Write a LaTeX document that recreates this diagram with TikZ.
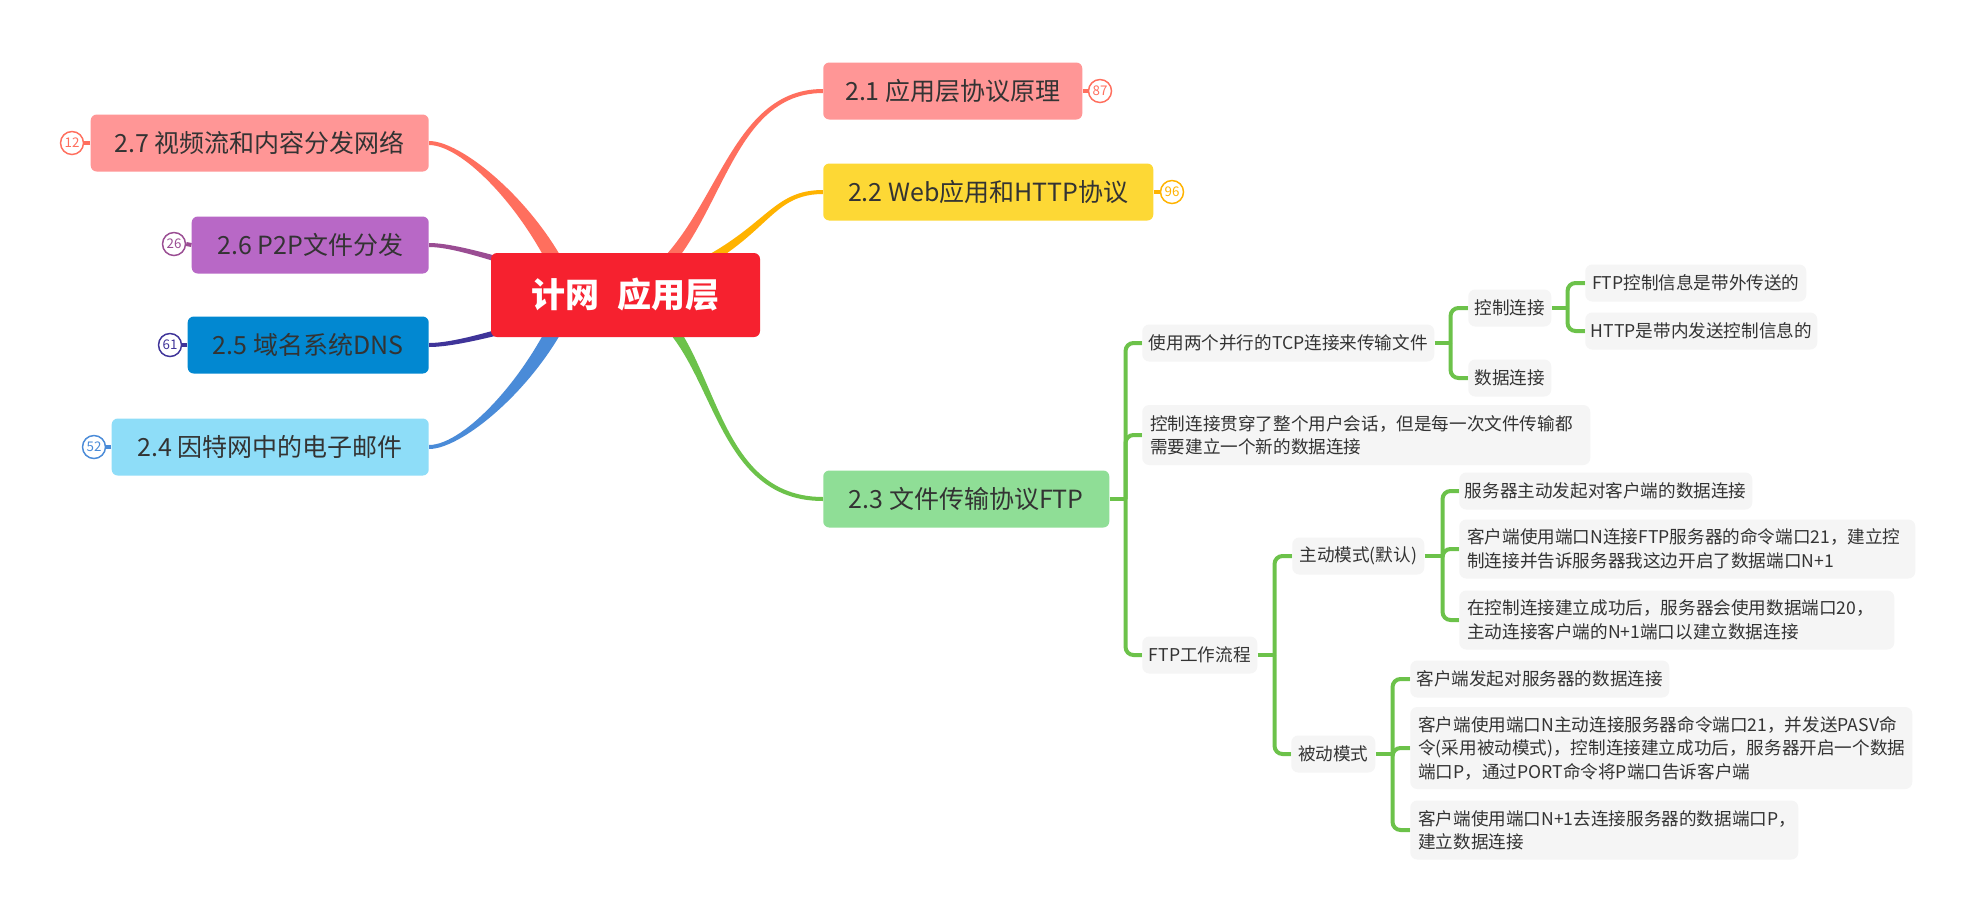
\documentclass[tikz,border=0pt]{standalone}
\usepackage{fontspec}
\setmainfont{Noto Sans CJK SC}
\usepackage{xcolor}
\usetikzlibrary{positioning,calc,backgrounds}
\definecolor{coral}{HTML}{FF6F5E}
\definecolor{amber}{HTML}{FFB300}
\definecolor{fgreen}{HTML}{6CC24A}
\definecolor{lblue}{HTML}{4A8BD8}
\definecolor{indigo}{HTML}{3F3499}
\definecolor{purple}{HTML}{9A4D93}
\definecolor{pink}{HTML}{FF9696}
\definecolor{yellow}{HTML}{FDD835}
\definecolor{lgreen}{HTML}{8FDE96}
\definecolor{cyan}{HTML}{8EDDF8}
\definecolor{blue}{HTML}{0288D1}
\definecolor{violet}{HTML}{B868C6}
\definecolor{rootred}{HTML}{F6212F}
\definecolor{leafgray}{HTML}{F5F5F5}
\definecolor{txt}{HTML}{333333}
\newdimen\pxu \pxu=0.75pt
\newcommand{\limb}[7]{%
  \fill[#1] ($#2+#6$) .. controls ($#3+#6$) and ($#4+#7$) .. ($#5+#7$)
    -- ($#5-#7$) .. controls ($#4-#7$) and ($#3-#6$) .. ($#2-#6$) -- cycle;}
\tikzset{
  root/.style={fill=rootred,rounded corners=6\pxu,text=white,inner sep=0pt,
    font=\fontsize{25.5}{30}\selectfont\bfseries,minimum height=84\pxu},
  topic/.style={rounded corners=6\pxu,text=txt,inner sep=0pt,anchor=west,
    font=\fontsize{18.75}{22}\selectfont,minimum height=57\pxu},
  leaf/.style={fill=leafgray,rounded corners=7\pxu,text=txt,inner sep=0pt,anchor=west,
    align=left,font=\fontsize{13.2}{17.6}\selectfont,minimum height=37\pxu},
  badge/.style={draw,circle,fill=white,line width=1.1pt,minimum size=23\pxu,inner sep=0pt,
    font=\fontsize{10}{11}\selectfont},
  stub/.style={line width=3pt},
  gline/.style={draw=fgreen,line width=3pt,rounded corners=8\pxu},
}
\begin{document}
\begin{tikzpicture}[x=0.75pt,y=-0.75pt]
  \useasboundingbox (0,0) rectangle (1976,922);
  \node[root,minimum width=269\pxu] (r) at (625.5,295) {计网\hspace{0.55em}应用层};
  \node[topic,fill=pink,minimum width=259\pxu] (t1) at (823,91) {2.1 应用层协议原理};
  \node[topic,fill=yellow,minimum width=330\pxu] (t2) at (823,192) {2.2 Web应用和HTTP协议};
  \node[topic,fill=lgreen,minimum width=286\pxu] (t3) at (823,499) {2.3 文件传输协议FTP};
  \node[topic,anchor=east,fill=cyan,minimum width=317\pxu] (t4) at (429,447) {2.4 因特网中的电子邮件};
  \node[topic,anchor=east,fill=blue,minimum width=241\pxu] (t5) at (429,345) {2.5 域名系统DNS};
  \node[topic,anchor=east,fill=violet,minimum width=237\pxu] (t6) at (429,245) {2.6 P2P文件分发};
  \node[topic,anchor=east,fill=pink,minimum width=338\pxu] (t7) at (429,143) {2.7 视频流和内容分发网络};

  \node[badge,draw=coral,text=coral] (n1) at (1100,91) {87};
  \node[badge,draw=amber,text=amber] (n2) at (1172,192) {96};
  \node[badge,draw=lblue,text=lblue] (n4) at (94,447) {52};
  \node[badge,draw=indigo,text=indigo] (n5) at (170,345) {61};
  \node[badge,draw=purple,text=purple] (n6) at (174,244) {26};
  \node[badge,draw=coral,text=coral] (n7) at (72,143) {12};

  \node[leaf,minimum width=292\pxu] (a1) at (1142,343) {使用两个并行的TCP连接来传输文件};
  \node[leaf,minimum width=83\pxu] (b1) at (1468,308) {控制连接};
  \node[leaf,minimum width=83\pxu] (b2) at (1468,378) {数据连接};
  \node[leaf,minimum width=221\pxu] (c1) at (1585,283) {FTP控制信息是带外传送的};
  \node[leaf,minimum width=232\pxu] (c2) at (1585,331) {HTTP是带内发送控制信息的};
  \node[leaf,minimum width=448\pxu,text width=432\pxu,minimum height=60\pxu] (a2) at (1142,435)
    {控制连接贯穿了整个用户会话，但是每一次文件传输都\\需要建立一个新的数据连接};
  \node[leaf,minimum width=115\pxu] (a3) at (1142,655) {FTP工作流程};
  \node[leaf,minimum width=132\pxu] (d1) at (1292,556) {主动模式(默认)};
  \node[leaf,minimum width=84\pxu] (d2) at (1291,754) {被动模式};
  \node[leaf,minimum width=293\pxu] (e1) at (1459,491) {服务器主动发起对客户端的数据连接};
  \node[leaf,minimum width=456\pxu,text width=440\pxu,minimum height=59\pxu] (e2) at (1459,549)
    {客户端使用端口N连接FTP服务器的命令端口21，建立控\\制连接并告诉服务器我这边开启了数据端口N+1};
  \node[leaf,minimum width=435\pxu,text width=419\pxu,minimum height=59\pxu] (e3) at (1459,620)
    {在控制连接建立成功后，服务器会使用数据端口20，\\主动连接客户端的N+1端口以建立数据连接};
  \node[leaf,minimum width=259\pxu] (g1) at (1410,679) {客户端发起对服务器的数据连接};
  \node[leaf,minimum width=502\pxu,text width=486\pxu,minimum height=82\pxu] (g2) at (1410,748)
    {客户端使用端口N主动连接服务器命令端口21，并发送PASV命\\令(采用被动模式)，控制连接建立成功后，服务器开启一个数据\\端口P，通过PORT命令将P端口告诉客户端};
  \node[leaf,minimum width=388\pxu,text width=372\pxu,minimum height=59\pxu] (g3) at (1410,830)
    {客户端使用端口N+1去连接服务器的数据端口P，\\建立数据连接};

  \begin{scope}[on background layer]
    \fill[white] (0,0) rectangle (1976,922);
    \coordinate (rl) at ($(r.center)+(-55,0)$);
    \limb{coral}{(r.center)}{(720,250)}{(720,91)}{(t1.west)}{(3,6.3)}{(0,2)}
    \limb{amber}{(r.center)}{(770,250)}{(760,192)}{(t2.west)}{(1.5,4.8)}{(0,2)}
    \limb{fgreen}{(r.center)}{(720,320)}{(700,499)}{(t3.west)}{(1.8,-7)}{(0,-2)}
    \limb{lblue}{(rl)}{(540,375)}{(465,447)}{(t4.east)}{(-7.5,-2.8)}{(0,-2)}
    \limb{indigo}{(r.center)}{(540,320)}{(465,345)}{(t5.east)}{(-1.1,-4)}{(0,-2)}
    \limb{purple}{(r.center)}{(540,275)}{(465,245)}{(t6.east)}{(-1,4)}{(0,2)}
    \limb{coral}{(rl)}{(540,215)}{(465,143)}{(t7.east)}{(-7.5,2.8)}{(0,2)}

    \draw[stub,coral] (t1.east) -- (n1.west);
    \draw[stub,amber] (t2.east) -- (n2.west);
    \draw[stub,lblue] (t4.west) -- (n4.east);
    \draw[stub,indigo] (t5.west) -- (n5.east);
    \draw[stub,purple] (t6.west) -- (n6.east);
    \draw[stub,coral] (t7.west) -- (n7.east);

    \coordinate (j3) at ($(t3.east)+(16,0)$);
    \coordinate (ja1) at ($(a1.east)+(16,0)$);
    \coordinate (jb1) at ($(b1.east)+(16,0)$);
    \coordinate (ja3) at ($(a3.east)+(17,0)$);
    \coordinate (jd1) at ($(d1.east)+(18,0)$);
    \coordinate (jd2) at ($(d2.east)+(17,0)$);
    \draw[gline] (t3.east) -- (j3);
    \draw[gline] (a1.east) -- (ja1);
    \draw[gline] (b1.east) -- (jb1);
    \draw[gline] (a3.east) -- (ja3);
    \draw[gline] (d1.east) -- (jd1);
    \draw[gline] (d2.east) -- (jd2);
    \foreach \n in {a1,a2,a3} \draw[gline] (j3) |- (\n.west);
    \foreach \n in {b1,b2} \draw[gline] (ja1) |- (\n.west);
    \foreach \n in {c1,c2} \draw[gline] (jb1) |- (\n.west);
    \foreach \n in {d1,d2} \draw[gline] (ja3) |- (\n.west);
    \foreach \n in {e1,e2,e3} \draw[gline] (jd1) |- (\n.west);
    \foreach \n in {g1,g2,g3} \draw[gline] (jd2) |- (\n.west);
  \end{scope}
\end{tikzpicture}
\end{document}
